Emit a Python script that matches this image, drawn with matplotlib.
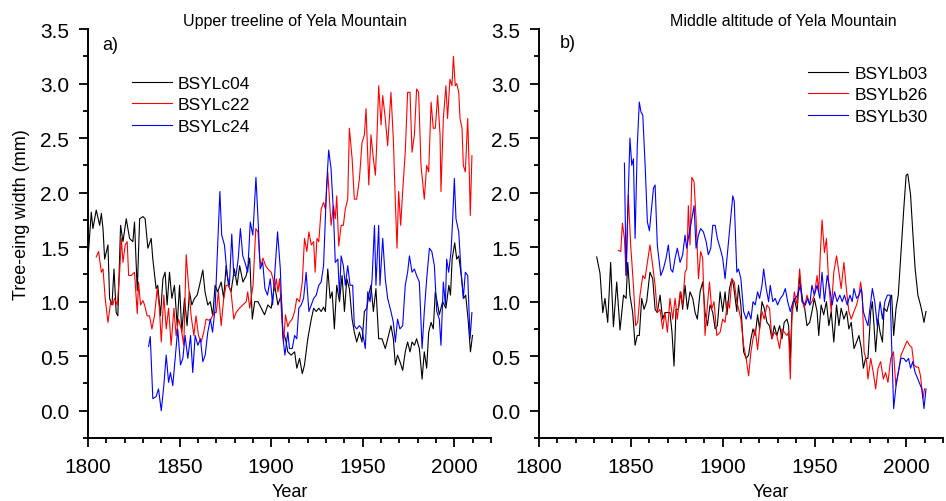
import matplotlib
matplotlib.use('Agg')
import matplotlib.pyplot as plt
from matplotlib.ticker import MultipleLocator

plt.rcParams['font.family'] = ['Liberation Sans', 'DejaVu Sans']

# ---- a) upper treeline ----
yr_c04 = [1800.0, 1801.8, 1802.7, 1804.5, 1806.4, 1807.3, 1808.2, 1809.1, 1810.9, 1811.8,
          1813.1, 1814.2, 1815.4, 1816.3, 1817.8, 1819.1, 1820.9, 1822.7, 1824.5, 1825.4,
          1826.9, 1828.2, 1830.0, 1831.2, 1832.7, 1834.5, 1835.4, 1837.2, 1838.1, 1839.6,
          1840.9, 1842.1, 1843.2, 1844.5, 1845.8, 1847.2, 1848.7, 1850.0, 1851.2, 1852.7,
          1854.1, 1855.4, 1856.7, 1858.1, 1859.6, 1860.9, 1862.7, 1863.9, 1865.4, 1866.8,
          1868.1, 1869.4, 1870.8, 1872.7, 1874.1, 1875.4, 1876.7, 1878.1, 1879.9, 1881.4,
          1882.8, 1884.6, 1886.4, 1888.3, 1889.7, 1891.0, 1892.8, 1894.6, 1896.4, 1898.2,
          1900.0, 1901.9, 1903.7, 1905.5, 1906.4, 1907.8, 1909.1, 1910.9, 1912.8, 1914.0,
          1915.5, 1917.0, 1918.2, 1920.0, 1921.9, 1923.2, 1924.6, 1926.0, 1927.3, 1928.6,
          1929.6, 1930.9, 1932.2, 1933.3, 1934.5, 1935.8, 1937.3, 1938.7, 1940.0, 1941.3,
          1942.7, 1944.2, 1945.4, 1946.7, 1948.2, 1949.6, 1950.9, 1952.2, 1953.6, 1954.5,
          1955.8, 1957.2, 1958.7, 1960.5, 1962.3, 1964.1, 1965.4, 1966.7, 1967.8, 1969.0,
          1970.3, 1971.8, 1973.2, 1974.5, 1975.8, 1976.9, 1978.2, 1979.4, 1980.9, 1982.4,
          1983.6, 1984.9, 1986.0, 1987.3, 1988.5, 1989.6, 1990.9, 1991.8, 1993.6, 1995.4,
          1997.0, 1997.9, 1998.8, 2000.2, 2001.3, 2002.4, 2003.8, 2005.1, 2006.2, 2007.5,
          2008.8, 2009.9]
c04 = [1.39, 1.82, 1.67, 1.84, 1.70, 1.81, 1.67, 1.39, 1.52, 1.03,
       0.97, 1.30, 0.90, 0.87, 1.70, 1.55, 1.76, 1.58, 1.55, 1.73,
       1.10, 1.76, 1.78, 1.76, 1.49, 1.58, 1.39, 1.12, 1.15, 0.87,
       1.21, 1.27, 0.97, 1.27, 1.03, 1.15, 0.78, 1.15, 0.72, 1.03,
       0.78, 1.09, 0.97, 1.03, 1.06, 1.15, 1.29, 1.09, 0.97, 1.00,
       0.87, 1.15, 1.09, 1.18, 1.03, 1.33, 1.15, 1.09, 1.30, 1.15,
       1.33, 1.18, 1.24, 1.40, 0.84, 1.00, 1.00, 0.94, 0.88, 0.97,
       0.94, 1.15, 0.97, 1.06, 0.72, 0.66, 0.54, 0.51, 0.54, 0.39,
       0.48, 0.34, 0.42, 0.66, 0.84, 0.94, 0.91, 0.94, 0.91, 0.95,
       0.91, 1.30, 1.03, 1.09, 0.75, 1.15, 1.00, 1.24, 0.91, 1.21,
       1.12, 0.84, 0.72, 0.63, 0.72, 0.63, 0.91, 0.94, 1.09, 1.15,
       0.91, 1.12, 0.66, 0.66, 0.57, 0.69, 0.78, 0.66, 0.42, 0.51,
       0.45, 0.37, 0.54, 0.63, 0.54, 0.63, 0.60, 0.66, 0.57, 0.29,
       0.54, 0.39, 0.72, 0.81, 0.75, 1.09, 0.97, 0.88, 1.00, 0.94,
       1.15, 1.06, 1.39, 1.54, 1.39, 1.42, 1.24, 1.03, 1.06, 0.84,
       0.54, 0.69]

yr_c22 = [1804.5, 1805.8, 1807.3, 1808.2, 1809.4, 1810.9, 1812.4, 1813.6, 1814.5, 1816.0,
          1817.3, 1818.2, 1819.1, 1820.3, 1821.4, 1822.2, 1823.6, 1825.4, 1826.9, 1827.6,
          1828.7, 1830.0, 1830.9, 1832.3, 1833.6, 1834.9, 1836.3, 1837.8, 1839.0, 1840.0,
          1841.4, 1842.7, 1844.0, 1845.4, 1846.9, 1848.1, 1849.4, 1850.9, 1852.3, 1853.6,
          1854.9, 1856.3, 1857.8, 1859.0, 1860.3, 1861.8, 1863.2, 1864.5, 1865.8, 1867.2,
          1868.7, 1870.0, 1871.2, 1872.7, 1874.1, 1875.4, 1876.7, 1878.1, 1879.6, 1880.8,
          1882.7, 1884.5, 1886.4, 1887.2, 1888.3, 1890.1, 1891.6, 1892.8, 1893.7, 1894.6,
          1895.5, 1897.0, 1898.2, 1900.0, 1901.0, 1901.9, 1902.8, 1903.7, 1904.6, 1905.5,
          1906.8, 1907.8, 1909.1, 1910.0, 1911.5, 1912.8, 1914.0, 1915.5, 1917.0, 1918.2,
          1919.5, 1920.6, 1921.9, 1923.2, 1924.0, 1925.0, 1926.0, 1927.3, 1928.6, 1929.6,
          1930.9, 1931.8, 1932.7, 1934.0, 1935.0, 1935.8, 1936.9, 1938.2, 1939.4, 1940.5,
          1941.8, 1942.7, 1944.2, 1945.4, 1946.7, 1948.2, 1949.6, 1950.9, 1951.8, 1953.3,
          1954.5, 1955.8, 1956.9, 1957.6, 1958.7, 1960.0, 1960.9, 1962.3, 1963.6, 1965.4,
          1966.7, 1967.8, 1968.7, 1969.6, 1970.7, 1971.8, 1973.2, 1974.5, 1975.8, 1976.9,
          1978.2, 1979.4, 1980.5, 1981.8, 1983.6, 1984.9, 1986.0, 1987.3, 1988.5, 1989.6,
          1990.9, 1992.2, 1992.7, 1994.0, 1995.4, 1996.3, 1997.6, 1998.7, 1999.5, 2000.5,
          2001.3, 2002.4, 2003.1, 2004.2, 2004.9, 2006.0, 2007.3, 2008.2, 2008.7, 2009.6]
c22 = [1.41, 1.46, 1.27, 1.30, 1.03, 0.81, 1.00, 0.97, 1.03, 0.97,
       1.27, 1.58, 1.36, 1.52, 1.55, 1.24, 1.24, 1.27, 0.89, 1.18,
       0.97, 1.01, 0.97, 0.87, 0.87, 0.75, 0.87, 1.12, 0.94, 0.63,
       1.06, 0.75, 0.94, 0.60, 0.94, 0.69, 0.84, 0.75, 0.60, 1.43,
       1.15, 0.87, 0.69, 0.87, 0.69, 0.63, 0.72, 0.84, 0.83, 0.84,
       0.90, 0.90, 1.09, 0.78, 1.03, 1.15, 1.15, 1.09, 0.84, 0.90,
       0.94, 0.97, 1.00, 1.09, 0.94, 1.15, 1.67, 1.64, 1.40, 1.33,
       1.40, 1.33, 1.30, 1.27, 1.21, 1.12, 1.21, 1.09, 1.21, 0.94,
       0.63, 0.88, 0.77, 0.81, 0.84, 0.91, 1.03, 1.00, 1.18, 1.58,
       1.46, 1.64, 1.52, 1.55, 1.27, 1.58, 1.55, 1.85, 1.91, 1.85,
       2.19, 1.94, 1.70, 1.88, 1.76, 1.97, 1.51, 1.70, 1.70, 1.85,
       1.94, 2.59, 2.31, 1.94, 1.94, 2.13, 2.46, 2.53, 2.77, 2.07,
       2.53, 2.31, 2.16, 2.43, 2.98, 2.62, 2.89, 2.68, 2.43, 2.92,
       2.49, 1.91, 1.49, 2.01, 1.70, 2.01, 2.37, 2.92, 2.92, 2.37,
       2.53, 2.95, 2.92, 2.25, 1.94, 2.25, 2.19, 2.83, 2.59, 2.59,
       2.89, 2.53, 2.01, 2.68, 2.98, 2.68, 3.04, 2.98, 3.25, 2.98,
       3.00, 2.92, 2.68, 2.59, 2.25, 2.19, 2.68, 2.16, 1.79, 2.34]

yr_c24 = [1833.1, 1834.0, 1835.4, 1837.2, 1838.5, 1840.0, 1841.4, 1842.7, 1844.0, 1845.0,
          1846.3, 1847.6, 1849.0, 1850.5, 1851.8, 1853.0, 1854.5, 1856.0, 1857.2, 1858.5,
          1860.0, 1861.4, 1862.7, 1864.0, 1865.4, 1866.8, 1868.0, 1869.4, 1870.5, 1872.0,
          1873.0, 1874.5, 1876.0, 1877.2, 1878.5, 1879.6, 1880.8, 1882.0, 1883.2, 1884.5,
          1885.7, 1887.2, 1888.6, 1890.0, 1891.7, 1893.0, 1894.0, 1895.4, 1896.6, 1898.0,
          1899.5, 1900.8, 1902.0, 1903.5, 1905.0, 1906.3, 1907.5, 1909.1, 1910.0, 1911.5,
          1912.8, 1914.0, 1915.1, 1916.4, 1917.7, 1919.1, 1920.6, 1921.9, 1923.2, 1924.6,
          1926.0, 1927.3, 1928.6, 1929.6, 1930.3, 1931.4, 1932.7, 1934.0, 1935.0, 1936.4,
          1937.3, 1938.2, 1939.4, 1940.5, 1941.8, 1943.1, 1944.5, 1945.4, 1946.7, 1948.2,
          1949.6, 1951.4, 1952.7, 1954.0, 1955.1, 1956.4, 1957.2, 1958.7, 1959.4, 1960.9,
          1962.3, 1963.6, 1965.4, 1966.7, 1967.8, 1969.0, 1970.3, 1971.8, 1973.2, 1974.5,
          1975.5, 1976.9, 1978.2, 1979.4, 1980.9, 1982.4, 1983.6, 1984.9, 1986.4, 1987.7,
          1989.1, 1990.4, 1991.8, 1992.7, 1994.0, 1995.1, 1995.8, 1996.9, 1998.2, 1999.1,
          2000.0, 2000.9, 2002.4, 2003.7, 2004.9, 2006.0, 2007.3, 2008.6, 2009.6]
c24 = [0.59, 0.68, 0.11, 0.13, 0.20, 0.00, 0.23, 0.51, 0.26, 0.35,
       0.23, 0.48, 0.75, 0.42, 0.48, 0.69, 0.48, 0.69, 0.35, 0.69,
       0.60, 0.66, 0.45, 0.51, 0.72, 0.84, 0.72, 0.94, 1.39, 2.01,
       1.61, 1.52, 1.24, 1.15, 1.62, 1.24, 1.24, 1.39, 1.67, 1.42,
       1.36, 1.27, 1.73, 1.61, 2.14, 1.70, 1.30, 1.36, 1.12, 1.06,
       1.21, 0.97, 1.27, 1.64, 1.30, 0.69, 0.51, 0.72, 0.57, 0.57,
       0.69, 0.66, 0.94, 0.97, 1.03, 1.27, 0.91, 0.97, 1.03, 1.06,
       1.15, 1.18, 1.33, 1.76, 2.07, 2.39, 2.22, 1.82, 1.36, 1.39,
       1.06, 1.42, 1.33, 1.15, 1.33, 1.15, 1.15, 0.78, 0.75, 0.78,
       0.75, 0.57, 1.09, 1.00, 1.21, 1.70, 1.15, 1.70, 1.15, 1.58,
       1.21, 1.03, 0.91, 0.81, 0.63, 0.84, 0.75, 0.78, 1.15, 1.27,
       1.42, 1.27, 1.30, 1.24, 1.18, 0.57, 0.91, 1.21, 1.49, 1.46,
       1.33, 0.91, 0.84, 0.60, 1.18, 0.97, 1.39, 1.27, 1.46, 1.76,
       2.13, 1.76, 1.64, 1.27, 1.03, 1.27, 1.24, 0.66, 0.90]

# ---- b) middle altitude ----
yr_b03 = [1831.4, 1833.2, 1834.7, 1835.9, 1837.4, 1839.0, 1840.5, 1842.3, 1844.1, 1846.0,
          1847.4, 1848.3, 1849.5, 1851.0, 1852.3, 1853.5, 1854.6, 1855.9, 1857.2, 1858.6,
          1860.4, 1861.9, 1863.2, 1864.4, 1865.9, 1867.3, 1868.6, 1869.9, 1871.3, 1872.4,
          1873.5, 1874.6, 1875.9, 1877.2, 1878.2, 1879.5, 1880.8, 1882.2, 1883.7, 1885.0,
          1886.2, 1887.7, 1889.1, 1890.4, 1891.7, 1893.1, 1894.6, 1895.9, 1897.1, 1898.6,
          1900.0, 1901.3, 1902.3, 1903.7, 1905.0, 1905.9, 1907.7, 1908.6, 1909.9, 1911.4,
          1912.8, 1914.1, 1915.4, 1916.5, 1917.7, 1919.0, 1920.1, 1921.4, 1922.6, 1924.1,
          1925.5, 1926.8, 1928.1, 1929.5, 1931.0, 1932.3, 1933.5, 1935.0, 1935.9, 1936.8,
          1937.7, 1939.0, 1940.5, 1941.9, 1943.2, 1944.4, 1945.9, 1947.4, 1948.6, 1949.9,
          1951.4, 1952.3, 1953.6, 1955.0, 1956.5, 1957.8, 1959.1, 1960.5, 1962.0, 1963.3,
          1964.5, 1966.0, 1967.5, 1968.7, 1970.0, 1971.5, 1972.9, 1974.2, 1975.5, 1976.6,
          1977.8, 1979.1, 1980.6, 1981.5, 1982.4, 1983.3, 1984.6, 1985.7, 1987.0, 1987.9,
          1989.4, 1990.7, 1992.0, 1993.1, 1994.4, 1995.6, 1997.1, 1998.6, 1999.9, 2000.8,
          2002.3, 2003.5, 2004.8, 2006.3, 2007.7, 2008.5, 2009.6, 2010.7]
b03 = [1.41, 1.26, 0.90, 1.03, 0.81, 1.36, 0.77, 1.18, 0.74, 1.06,
       1.03, 1.36, 1.06, 0.90, 0.60, 0.69, 0.69, 1.03, 0.93, 1.00,
       1.27, 1.21, 0.93, 0.90, 1.06, 0.84, 0.90, 0.90, 0.90, 0.72,
       0.41, 0.93, 0.93, 1.09, 0.93, 1.15, 0.93, 1.09, 1.03, 0.90,
       0.84, 1.09, 1.18, 0.90, 0.78, 0.97, 0.90, 0.75, 0.78, 1.09,
       0.91, 1.09, 0.88, 1.12, 1.21, 1.15, 0.91, 1.15, 0.97, 0.54,
       0.48, 0.51, 0.66, 0.75, 0.69, 0.88, 0.75, 1.00, 0.94, 0.81,
       0.78, 0.66, 0.78, 0.69, 0.78, 0.66, 0.81, 0.84, 0.78, 0.48,
       0.91, 1.03, 0.91, 1.24, 1.00, 0.97, 0.78, 0.81, 0.91, 1.03,
       0.91, 0.69, 0.97, 0.88, 1.00, 0.78, 0.91, 0.63, 0.97, 0.78,
       0.94, 0.84, 0.91, 0.75, 0.81, 0.57, 0.63, 0.69, 0.57, 0.39,
       0.48, 0.48, 0.91, 1.00, 0.78, 0.54, 0.84, 0.72, 0.63, 0.94,
       0.91, 1.00, 1.06, 0.69, 0.94, 1.06, 1.45, 1.85, 2.16, 2.17,
       1.98, 1.64, 1.30, 1.06, 0.97, 0.91, 0.81, 0.91]

yr_b26 = [1843.2, 1844.5, 1845.4, 1846.5, 1847.4, 1848.6, 1849.9, 1851.4, 1852.6, 1853.7,
          1855.0, 1856.5, 1857.7, 1859.0, 1860.4, 1861.9, 1863.2, 1864.4, 1865.9, 1867.3,
          1868.6, 1869.9, 1871.3, 1872.8, 1874.1, 1875.3, 1876.8, 1878.2, 1879.5, 1880.4,
          1881.3, 1882.2, 1883.2, 1884.4, 1885.5, 1886.8, 1888.0, 1889.1, 1890.4, 1891.7,
          1892.8, 1894.0, 1895.3, 1896.8, 1898.6, 1900.0, 1901.3, 1902.6, 1903.7, 1905.0,
          1906.3, 1907.7, 1908.6, 1909.9, 1911.4, 1912.8, 1914.1, 1915.4, 1916.5, 1917.7,
          1919.0, 1920.1, 1921.4, 1922.6, 1924.1, 1925.5, 1926.8, 1928.1, 1929.5, 1931.0,
          1932.3, 1933.5, 1935.0, 1935.9, 1936.8, 1937.7, 1939.0, 1940.5, 1941.9, 1943.2,
          1944.4, 1945.9, 1947.4, 1948.6, 1949.9, 1951.4, 1952.3, 1953.2, 1954.1, 1955.4,
          1956.5, 1957.8, 1959.1, 1960.5, 1962.0, 1963.3, 1964.5, 1966.0, 1967.5, 1968.7,
          1970.0, 1971.5, 1972.9, 1974.2, 1975.1, 1976.0, 1977.0, 1978.4, 1979.1, 1980.6,
          1982.0, 1983.3, 1984.6, 1986.0, 1987.5, 1988.7, 1990.0, 1991.5, 1993.0, 1994.3,
          1995.6, 1997.1, 1998.6, 2000.4, 2001.7, 2003.0, 2004.1, 2005.4, 2006.6, 2007.7,
          2009.0, 2009.9]
b26 = [1.47, 1.46, 1.72, 1.58, 1.24, 1.98, 1.52, 1.15, 0.78, 0.81,
       1.06, 1.24, 1.21, 1.36, 1.52, 1.33, 1.15, 0.90, 0.93, 0.75,
       0.90, 0.72, 1.03, 0.84, 1.03, 0.84, 1.09, 0.97, 1.27, 1.30,
       1.88, 1.52, 2.14, 2.10, 1.76, 1.21, 1.46, 1.40, 0.69, 0.97,
       1.18, 0.93, 1.00, 0.69, 0.72, 0.84, 0.81, 1.00, 0.94, 1.21,
       1.18, 1.00, 0.94, 0.84, 0.60, 0.48, 0.32, 0.54, 0.66, 0.75,
       0.56, 0.75, 0.91, 0.84, 0.97, 0.94, 0.66, 0.72, 0.69, 0.57,
       0.75, 0.72, 0.69, 0.72, 0.29, 0.84, 1.09, 0.97, 1.30, 1.03,
       0.94, 1.06, 0.97, 1.00, 1.06, 1.24, 1.09, 1.45, 1.75, 1.45,
       1.58, 1.15, 0.91, 1.27, 1.42, 1.27, 1.12, 1.36, 1.09, 0.91,
       0.84, 0.91, 0.97, 1.06, 1.18, 1.06, 0.54, 0.45, 0.29, 0.48,
       0.35, 0.20, 0.39, 0.45, 0.29, 0.35, 0.26, 0.48, 0.54, 0.23,
       0.35, 0.51, 0.57, 0.64, 0.60, 0.58, 0.42, 0.40, 0.40, 0.32,
       0.11, 0.20]

yr_b30 = [1846.5, 1847.4, 1848.3, 1849.5, 1850.5, 1851.4, 1852.3, 1853.5, 1854.6, 1855.5,
          1856.5, 1857.7, 1859.0, 1860.1, 1861.4, 1862.3, 1863.2, 1864.4, 1866.3, 1867.7,
          1869.2, 1870.4, 1871.7, 1872.8, 1874.1, 1875.3, 1876.8, 1878.2, 1879.5, 1880.4,
          1881.9, 1883.2, 1884.4, 1885.5, 1886.8, 1888.0, 1889.5, 1891.0, 1892.2, 1893.5,
          1894.6, 1895.9, 1897.1, 1898.6, 1900.0, 1901.3, 1902.6, 1904.0, 1905.5, 1906.3,
          1907.7, 1908.6, 1909.9, 1911.4, 1912.8, 1914.1, 1915.4, 1916.5, 1917.7, 1919.0,
          1920.1, 1921.4, 1922.3, 1923.7, 1925.0, 1925.9, 1927.3, 1928.6, 1929.9, 1931.4,
          1932.8, 1934.1, 1935.4, 1936.8, 1938.3, 1939.5, 1940.8, 1942.3, 1943.7, 1945.0,
          1946.3, 1947.4, 1948.6, 1949.9, 1951.4, 1952.9, 1954.1, 1955.4, 1956.9, 1958.3,
          1959.6, 1960.9, 1962.3, 1963.8, 1965.1, 1966.3, 1967.8, 1969.3, 1970.5, 1971.5,
          1972.9, 1974.2, 1975.5, 1976.6, 1977.8, 1979.1, 1980.2, 1981.5, 1982.8, 1984.2,
          1985.7, 1987.0, 1988.3, 1989.7, 1991.2, 1992.0, 1993.1, 1994.4, 1995.6, 1997.1,
          1998.6, 1999.9, 2001.2, 2002.3, 2003.5, 2004.8, 2006.3, 2007.7, 2008.5, 2009.6,
          2010.7]
b30 = [2.27, 1.24, 1.82, 2.50, 2.25, 2.31, 1.58, 2.43, 2.83, 2.74,
       2.71, 2.28, 1.73, 1.65, 1.88, 2.04, 2.07, 1.52, 1.24, 1.30,
       1.40, 1.52, 1.30, 1.27, 1.40, 1.49, 1.36, 1.43, 1.61, 1.49,
       1.64, 1.76, 1.88, 1.49, 1.61, 1.67, 1.64, 1.55, 1.43, 1.49,
       1.70, 1.70, 1.58, 1.49, 1.40, 1.21, 1.45, 1.70, 1.97, 1.92,
       1.27, 1.30, 1.21, 0.91, 0.84, 0.91, 0.84, 1.00, 0.97, 1.09,
       1.03, 1.15, 1.30, 1.12, 1.00, 1.15, 1.00, 1.03, 0.97, 1.03,
       1.06, 1.12, 1.00, 0.91, 1.00, 1.03, 1.06, 1.15, 1.00, 0.97,
       1.03, 0.97, 1.15, 1.06, 1.15, 1.03, 1.27, 1.00, 1.24, 1.12,
       0.97, 1.09, 1.00, 1.06, 1.00, 1.06, 0.97, 1.06, 1.00, 1.12,
       1.03, 1.06, 1.12, 0.91, 0.84, 0.78, 0.94, 1.12, 1.00, 0.78,
       1.00, 0.84, 1.00, 1.06, 1.06, 0.60, 0.02, 0.23, 0.35, 0.48,
       0.48, 0.45, 0.48, 0.39, 0.45, 0.35, 0.29, 0.23, 0.20, 0.02,
       0.20]

fig = plt.figure(figsize=(9.46, 5.02), dpi=100)
ax1 = fig.add_axes([0.0930, 0.1255, 0.4260, 0.8147])
ax2 = fig.add_axes([0.5698, 0.1255, 0.4271, 0.8147])

lw = 0.8
ax1.plot(yr_c04, c04, color='black', lw=lw, label='BSYLc04')
ax1.plot(yr_c22, c22, color='red', lw=lw, label='BSYLc22')
ax1.plot(yr_c24, c24, color='blue', lw=lw, label='BSYLc24')

ax2.plot(yr_b03, b03, color='black', lw=lw, label='BSYLb03')
ax2.plot(yr_b26, b26, color='red', lw=lw, label='BSYLb26')
ax2.plot(yr_b30, b30, color='blue', lw=lw, label='BSYLb30')

for ax in (ax1, ax2):
    ax.set_xlim(1800, 2020)
    ax.set_ylim(-0.25, 3.5)
    ax.xaxis.set_major_locator(MultipleLocator(50))
    ax.xaxis.set_minor_locator(MultipleLocator(10))
    ax.yaxis.set_major_locator(MultipleLocator(0.5))
    ax.yaxis.set_minor_locator(MultipleLocator(0.25))
    ax.yaxis.set_major_formatter(plt.FormatStrFormatter('%.1f'))
    ax.spines['top'].set_visible(False)
    ax.spines['right'].set_visible(False)
    ax.spines['left'].set_linewidth(1.4)
    ax.spines['bottom'].set_linewidth(1.4)
    ax.tick_params(which='major', direction='out', length=6.5, width=1.3, labelsize=15, pad=7)
    ax.tick_params(which='minor', direction='out', length=3.8, width=1.3)
    ax.legend(frameon=False, fontsize=12.5, handlelength=2.3, handletextpad=0.35,
              labelspacing=0.36, borderaxespad=0, borderpad=0, loc='upper left')

ax1.get_legend().set_bbox_to_anchor((0.109, 0.886), transform=ax1.transAxes)
ax2.get_legend().set_bbox_to_anchor((0.666, 0.910), transform=ax2.transAxes)

ax1.text(0.514, 1.022, 'Upper treeline of Yela Mountain', transform=ax1.transAxes,
         ha='center', va='center', fontsize=11.5)
ax2.text(0.605, 1.022, 'Middle altitude of Yela Mountain', transform=ax2.transAxes,
         ha='center', va='center', fontsize=11.5)
ax1.text(0.035, 0.961, 'a)', transform=ax1.transAxes, ha='left', va='center', fontsize=13)
ax2.text(0.052, 0.966, 'b)', transform=ax2.transAxes, ha='left', va='center', fontsize=13)

ax1.text(0.5, -0.110, 'Year', transform=ax1.transAxes, ha='center', va='top', fontsize=13)
ax2.text(0.574, -0.110, 'Year', transform=ax2.transAxes, ha='center', va='top', fontsize=13)
ax1.text(-0.166, 0.548, 'Tree-eing width (mm)', transform=ax1.transAxes,
         rotation=90, ha='center', va='center', fontsize=13)

fig.savefig('out.png', dpi=100)
